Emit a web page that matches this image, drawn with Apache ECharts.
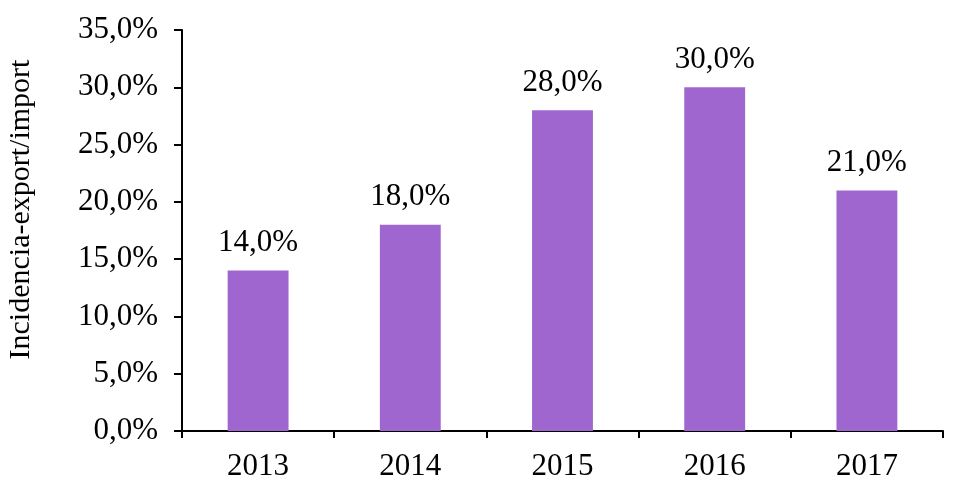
<!DOCTYPE html>
<html><head><meta charset="utf-8">
<script src="https://cdn.jsdelivr.net/npm/echarts@6/dist/echarts.min.js"></script>
<style>html,body{margin:0;padding:0;background:#fff}#c{width:968px;height:499px}</style>
</head><body><div id="c"></div>
<script>
const categories = ['2013','2014','2015','2016','2017'];
const values = [14.0, 18.0, 28.0, 30.0, 21.0];
const yAxisName = 'Incidencia-export/import';
const fmt = v => v.toFixed(1).replace('.', ',') + '%';
const font = '"Liberation Serif", "Times New Roman", serif';
const chart = echarts.init(document.getElementById('c'));
chart.setOption({
  animation: false,
  grid: {left: 182, right: 25, top: 30, bottom: 68, containLabel: false, outerBoundsMode: 'none'},
  xAxis: {
    type: 'category', data: categories,
    axisLine: {lineStyle: {color: '#000', width: 2}},
    axisTick: {show: true, length: 7, lineStyle: {color: '#000', width: 2}},
    axisLabel: {color: '#000', fontFamily: font, fontSize: 31, margin: 20}
  },
  yAxis: {
    type: 'value', min: 0, max: 35, interval: 5,
    name: yAxisName, nameLocation: 'middle', nameGap: 146, nameRotate: 90,
    nameTextStyle: {color: '#000', fontFamily: font, fontSize: 30, padding: [0, 0, 0, 42]},
    axisLine: {show: true, lineStyle: {color: '#000', width: 2}},
    axisTick: {show: true, length: 8, lineStyle: {color: '#000', width: 2}},
    splitLine: {show: false},
    axisLabel: {color: '#000', fontFamily: font, fontSize: 31, margin: 24, formatter: fmt}
  },
  series: [{
    type: 'bar', data: values, barWidth: '40%',
    itemStyle: {color: '#A066D0'},
    label: {show: true, position: 'top', distance: 12, color: '#000', fontFamily: font, fontSize: 31, formatter: p => fmt(p.value)}
  }]
});
</script></body></html>
